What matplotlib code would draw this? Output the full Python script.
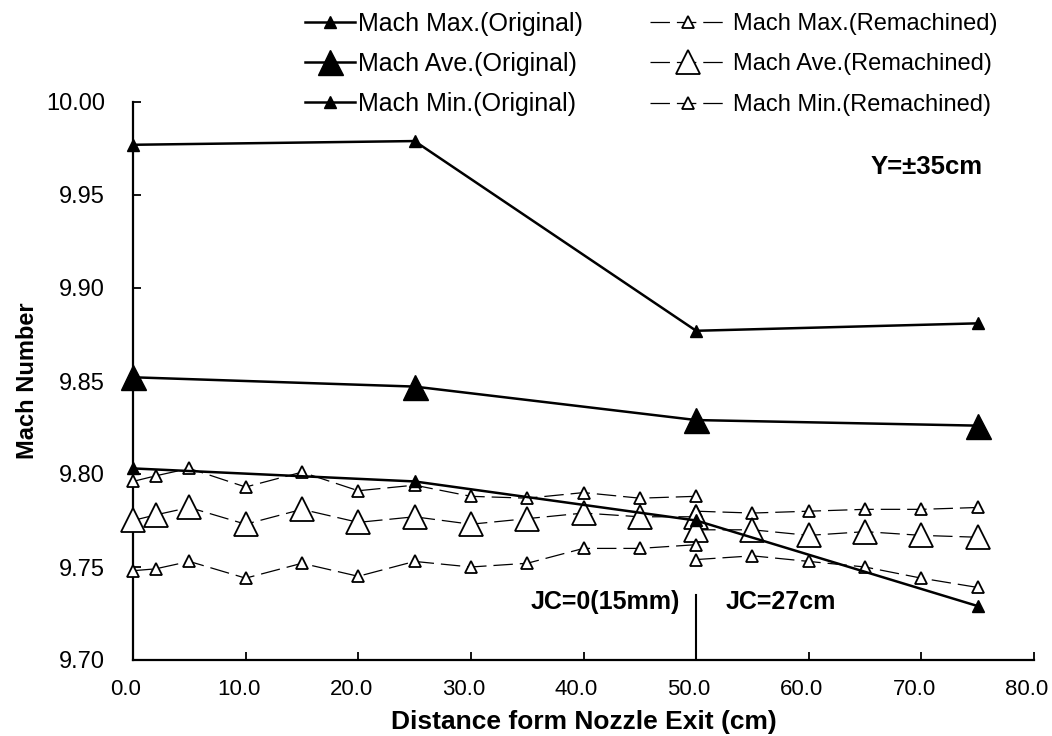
import matplotlib
matplotlib.use("Agg")
import matplotlib.pyplot as plt
from matplotlib.ticker import MultipleLocator, FormatStrFormatter
from matplotlib.transforms import ScaledTranslation

plt.rcParams['lines.scale_dashes'] = False
plt.rcParams['font.family'] = ['Liberation Sans', 'DejaVu Sans']

# ---------------- data ----------------
x_orig = [0, 25, 50, 75]
mach_max_orig = [9.977, 9.979, 9.877, 9.881]
mach_ave_orig = [9.852, 9.847, 9.829, 9.826]
mach_min_orig = [9.803, 9.796, 9.775, 9.729]

# remachined nozzle, JC=0(15mm) section
x_rem_jc0 = [0, 2, 5, 10, 15, 20, 25, 30, 35, 40, 45, 50]
mach_max_rem_jc0 = [9.796, 9.799, 9.803, 9.793, 9.801, 9.791, 9.794, 9.788, 9.787, 9.790, 9.787, 9.788]
mach_ave_rem_jc0 = [9.775, 9.778, 9.782, 9.773, 9.781, 9.774, 9.777, 9.773, 9.776, 9.779, 9.777, 9.777]
mach_min_rem_jc0 = [9.748, 9.749, 9.753, 9.744, 9.752, 9.745, 9.753, 9.750, 9.752, 9.760, 9.760, 9.762]

# remachined nozzle, JC=27cm section
x_rem_jc27 = [50, 55, 60, 65, 70, 75]
mach_max_rem_jc27 = [9.780, 9.779, 9.780, 9.781, 9.781, 9.782]
mach_ave_rem_jc27 = [9.770, 9.770, 9.767, 9.769, 9.767, 9.766]
mach_min_rem_jc27 = [9.754, 9.756, 9.753, 9.750, 9.744, 9.739]

labels_orig = ["Mach Max.(Original)", "Mach Ave.(Original)", "Mach Min.(Original)"]
labels_rem = ["Mach Max.(Remachined)", "Mach Ave.(Remachined)", "Mach Min.(Remachined)"]

jc_boundary = 50.0
jc_line_top = 9.735

# ---------------- figure ----------------
fig = plt.figure(figsize=(10.52, 7.36), dpi=100)
ax = fig.add_axes([133/1052, 1-660/736, (1034-133)/1052, (660-102)/736])

small_ms = 8
big_ms = 18
dash = (14, 5)

orig_handles = []
for vals, ms, lab in zip([mach_max_orig, mach_ave_orig, mach_min_orig],
                         [small_ms, big_ms, small_ms], labels_orig):
    h, = ax.plot(x_orig, vals, color='black', lw=1.8, marker='^', ms=ms,
                 mfc='black', mec='black', clip_on=False, zorder=4, label=lab)
    orig_handles.append(h)

rem_handles = []
for v0, v27, ms, lab in zip([mach_max_rem_jc0, mach_ave_rem_jc0, mach_min_rem_jc0],
                            [mach_max_rem_jc27, mach_ave_rem_jc27, mach_min_rem_jc27],
                            [small_ms + 1, big_ms - 1, small_ms + 1], labels_rem):
    h, = ax.plot(x_rem_jc0, v0, color='black', lw=0.9, dashes=dash, marker='^', ms=ms,
                 mfc='white', mec='black', mew=1.3, clip_on=False, zorder=3, label=lab)
    ax.plot(x_rem_jc27, v27, color='black', lw=0.9, dashes=dash, marker='^', ms=ms,
            mfc='white', mec='black', mew=1.3, clip_on=False, zorder=3)
    rem_handles.append(h)

# JC boundary marker line
ax.plot([jc_boundary, jc_boundary], [9.70, jc_line_top], color='black', lw=1.5)

ax.set_xlim(0, 80)
ax.set_ylim(9.70, 10.00)
ax.xaxis.set_major_locator(MultipleLocator(10))
ax.yaxis.set_major_locator(MultipleLocator(0.05))
ax.xaxis.set_major_formatter(FormatStrFormatter('%.1f'))
ax.yaxis.set_major_formatter(FormatStrFormatter('%.2f'))

for s in ['top', 'right']:
    ax.spines[s].set_visible(False)
for s in ['left', 'bottom']:
    ax.spines[s].set_linewidth(1.6)

ax.tick_params(axis='both', direction='in', length=6, width=1.3)
ax.tick_params(axis='y', pad=20, labelsize=17)
ax.tick_params(axis='x', pad=14, labelsize=16)
shift = ScaledTranslation(-5/72, 0, fig.dpi_scale_trans)
for lab in ax.get_xticklabels():
    lab.set_transform(lab.get_transform() + shift)

ax.set_ylabel("Mach Number", fontsize=17, fontweight='bold', labelpad=5)
ax.set_xlabel("Distance form Nozzle Exit (cm)", fontsize=19, fontweight='bold', labelpad=7)

ax.text(65.5, 9.965, "Y=±35cm", fontsize=18.5, fontweight='bold', ha='left', va='center')
ax.text(48.6, 9.731, "JC=0(15mm)", fontsize=18, fontweight='bold', ha='right', va='center')
ax.text(52.6, 9.731, "JC=27cm", fontsize=18, fontweight='bold', ha='left', va='center')

leg_kw = dict(frameon=False, borderpad=0, borderaxespad=0, labelspacing=0.63,
              handlelength=2.0, handletextpad=0.1, loc='upper left', numpoints=1,
              prop={'size': 18})
fig.legend(handles=orig_handles, bbox_to_anchor=(305/1052, 1-12/736), **leg_kw)
leg_kw2 = dict(leg_kw)
leg_kw2['handlelength'] = 3.2
leg_kw2['handletextpad'] = 0.3
leg_kw2['prop'] = {'size': 17}
leg_kw2['labelspacing'] = 0.78
fig.legend(handles=rem_handles, bbox_to_anchor=(650/1052, 1-13/736), **leg_kw2)

fig.savefig("out.png", dpi=100)
